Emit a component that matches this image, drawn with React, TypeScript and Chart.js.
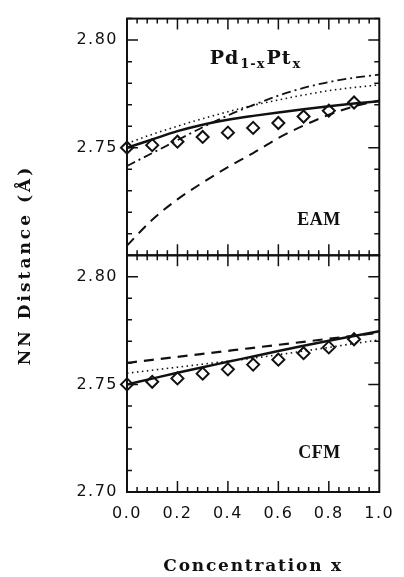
import React, { useEffect, useRef } from "react";
import { Chart, registerables } from "chart.js";

Chart.register(...registerables);

// ---- data ----
const xValues = [0, 0.1, 0.2, 0.3, 0.4, 0.5, 0.6, 0.7, 0.8, 0.9, 1.0];
const expX = [0, 0.1, 0.2, 0.3, 0.4, 0.5, 0.6, 0.7, 0.8, 0.9];
const expValues = [2.75, 2.7512, 2.7528, 2.755, 2.757, 2.7592, 2.7615, 2.7645, 2.7672, 2.771];

// EAM panel (top)
const eamSolid = [2.75, 2.7538, 2.7577, 2.7607, 2.763, 2.7648, 2.7664, 2.7679, 2.7693, 2.7705, 2.7716];
const eamDashDot = [2.7415, 2.7475, 2.7535, 2.7595, 2.765, 2.7698, 2.7742, 2.7778, 2.7805, 2.7825, 2.784];
const eamDotted = [2.752, 2.7562, 2.76, 2.7635, 2.7667, 2.7697, 2.7722, 2.7745, 2.7765, 2.778, 2.7792];
const eamDashed = [2.7045, 2.7165, 2.726, 2.7338, 2.741, 2.7475, 2.7545, 2.7603, 2.7653, 2.7692, 2.772];

// CFM panel (bottom)
const cfmSolid = [2.75, 2.7527, 2.7554, 2.758, 2.7605, 2.763, 2.7655, 2.768, 2.7703, 2.7725, 2.7747];
const cfmDashed = [2.76, 2.7614, 2.7628, 2.7642, 2.7656, 2.767, 2.7684, 2.7698, 2.7712, 2.7726, 2.774];
const cfmDotted = [2.7552, 2.7566, 2.758, 2.7594, 2.7608, 2.7622, 2.7638, 2.7655, 2.7672, 2.769, 2.7707];

// ---- axes ----
const xTicks = [0, 0.2, 0.4, 0.6, 0.8, 1.0];
const yTopTicks = [2.75, 2.8];
const yBottomTicks = [2.7, 2.75, 2.8];
const xMin = 0;
const xMax = 1.0;
const yMin = 2.7;
const yMax = 2.81;
const xMinorStep = 0.04;
const xMajorEvery = 5;
const yMinorStep = 0.01;
const yMajorEvery = 5;

const xTitle = "Concentration x";
const yTitle = "NN Distance (Å)";
const topLabel = ["Pd", "1-x", "Pt", "x"];
const eamLabel = "EAM";
const cfmLabel = "CFM";

const INK = "#111";

const pts = (ys: number[]) => ys.map((y, i) => ({ x: xValues[i], y }));
const expPts = expValues.map((y, i) => ({ x: expX[i], y }));

const lineDs = (data: number[], axis: string, dash: number[], width: number) => ({
  data: pts(data),
  yAxisID: axis,
  showLine: true,
  borderColor: INK,
  borderWidth: width,
  borderDash: dash,
  pointRadius: 0,
  cubicInterpolationMode: "monotone" as const,
  fill: false,
});

const expDs = (axis: string) => ({
  data: expPts,
  yAxisID: axis,
  showLine: false,
  pointStyle: "rectRot" as const,
  pointRadius: 6,
  pointBorderWidth: 2,
  borderColor: INK,
  backgroundColor: "rgba(0,0,0,0)",
  clip: false as const,
});

const framePlugin = {
  id: "frame",
  beforeDraw(chart: any) {
    chart.ctx.letterSpacing = "1.5px";
  },
  afterDraw(chart: any) {
    const ctx = chart.ctx as CanvasRenderingContext2D;
    const xs = chart.scales.x;
    const yt = chart.scales.yTop;
    const yb = chart.scales.yBottom;
    const L = xs.left;
    const R = xs.right;
    ctx.save();
    (ctx as any).letterSpacing = "0px";
    ctx.strokeStyle = INK;
    ctx.fillStyle = INK;
    ctx.lineWidth = 2;
    ctx.setLineDash([]);
    const major = 11;
    const minor = 5;
    [yt, yb].forEach((ys: any) => {
      ctx.strokeRect(L, ys.top, R - L, ys.bottom - ys.top);
      ctx.lineWidth = 1.5;
      const ny = Math.round((yMax - yMin) / yMinorStep);
      for (let i = 1; i <= ny; i++) {
        const py = ys.getPixelForValue(yMin + i * yMinorStep);
        const len = i % yMajorEvery === 0 ? major : minor;
        ctx.beginPath();
        ctx.moveTo(L, py);
        ctx.lineTo(L + len, py);
        ctx.moveTo(R, py);
        ctx.lineTo(R - len, py);
        ctx.stroke();
      }
      const nx = Math.round((xMax - xMin) / xMinorStep);
      for (let i = 1; i < nx; i++) {
        const px = xs.getPixelForValue(xMin + i * xMinorStep);
        const len = i % xMajorEvery === 0 ? major : minor;
        ctx.beginPath();
        ctx.moveTo(px, ys.top);
        ctx.lineTo(px, ys.top + len);
        ctx.moveTo(px, ys.bottom);
        ctx.lineTo(px, ys.bottom - len);
        ctx.stroke();
      }
      ctx.lineWidth = 2;
    });

    // panel labels
    ctx.textBaseline = "alphabetic";
    ctx.textAlign = "left";
    let px = xs.getPixelForValue(0.328);
    const by = yt.getPixelForValue(2.789);
    const mainFont = "bold 19px 'DejaVu Serif'";
    const subFont = "bold 13px 'DejaVu Serif'";
    (ctx as any).letterSpacing = "1px";
    topLabel.forEach((t, i) => {
      const sub = i % 2 === 1;
      ctx.font = sub ? subFont : mainFont;
      ctx.fillText(t, px, sub ? by + 4 : by);
      px += ctx.measureText(t).width + 1;
    });
    (ctx as any).letterSpacing = "0.5px";
    ctx.font = "bold 18px 'Liberation Serif'";
    ctx.fillText(eamLabel, xs.getPixelForValue(0.675), yt.getPixelForValue(2.7142));
    ctx.fillText(cfmLabel, xs.getPixelForValue(0.679), yb.getPixelForValue(2.7158));

    // axis titles
    ctx.textAlign = "center";
    ctx.textBaseline = "middle";
    ctx.font = "bold 17px 'DejaVu Serif'";
    (ctx as any).letterSpacing = "1.8px";
    ctx.fillText(xTitle, (L + R) / 2, 567);
    ctx.save();
    ctx.translate(26, 265);
    ctx.rotate(-Math.PI / 2);
    (ctx as any).letterSpacing = "3px";
    ctx.fillText(yTitle, 0, 0);
    ctx.restore();
    ctx.restore();
  },
};

const tickFont = { family: "'DejaVu Sans'", size: 16 };

export default function App() {
  const ref = useRef<HTMLCanvasElement>(null);
  useEffect(() => {
    if (!ref.current) return;
    const chart = new Chart(ref.current, {
      type: "scatter",
      data: {
        datasets: [
          expDs("yTop"),
          lineDs(eamDashed, "yTop", [10, 7], 2),
          lineDs(eamDotted, "yTop", [1.5, 3.5], 1.6),
          lineDs(eamDashDot, "yTop", [9, 4, 2, 4], 1.8),
          lineDs(eamSolid, "yTop", [], 2.5),
          expDs("yBottom"),
          lineDs(cfmDotted, "yBottom", [1.5, 3.5], 1.6),
          lineDs(cfmDashed, "yBottom", [10, 7], 2.2),
          lineDs(cfmSolid, "yBottom", [], 2.5),
        ] as any,
      },
      options: {
        responsive: false,
        animation: false,
        devicePixelRatio: 1,
        layout: { padding: { left: 0, right: 17, top: 14, bottom: 0 } },
        plugins: { legend: { display: false }, tooltip: { enabled: false } },
        scales: {
          x: {
            type: "linear",
            min: xMin,
            max: xMax,
            grid: { display: false, drawTicks: false },
            border: { display: false },
            afterFit: (s: any) => {
              s.height = 85;
            },
            afterBuildTicks: (s: any) => {
              s.ticks = xTicks.map((v) => ({ value: v }));
            },
            ticks: {
              padding: 12,
              color: INK,
              font: tickFont,
              maxRotation: 0,
              callback: (v: any) => Number(v).toFixed(1),
            },
          },
          yBottom: {
            type: "linear",
            position: "left",
            stack: "panels",
            stackWeight: 1,
            min: yMin,
            max: yMax,
            grid: { display: false, drawTicks: false },
            border: { display: false },
            afterFit: (s: any) => {
              s.width = 127;
            },
            afterBuildTicks: (s: any) => {
              s.ticks = yBottomTicks.map((v) => ({ value: v }));
            },
            ticks: {
              padding: 9,
              color: INK,
              font: tickFont,
              callback: (v: any) => Number(v).toFixed(2),
            },
          },
          yTop: {
            type: "linear",
            position: "left",
            stack: "panels",
            stackWeight: 1,
            min: yMin,
            max: yMax,
            grid: { display: false, drawTicks: false },
            border: { display: false },
            afterFit: (s: any) => {
              s.width = 127;
            },
            afterBuildTicks: (s: any) => {
              s.ticks = yTopTicks.map((v) => ({ value: v }));
            },
            ticks: {
              padding: 9,
              color: INK,
              font: tickFont,
              callback: (v: any) => Number(v).toFixed(2),
            },
          },
        },
      } as any,
      plugins: [framePlugin],
    });
    return () => chart.destroy();
  }, []);
  return (
    <canvas
      ref={ref}
      width={404}
      height={577}
      style={{ position: "fixed", left: 0, top: 0, width: "404px", height: "577px", background: "#fff" }}
    />
  );
}
